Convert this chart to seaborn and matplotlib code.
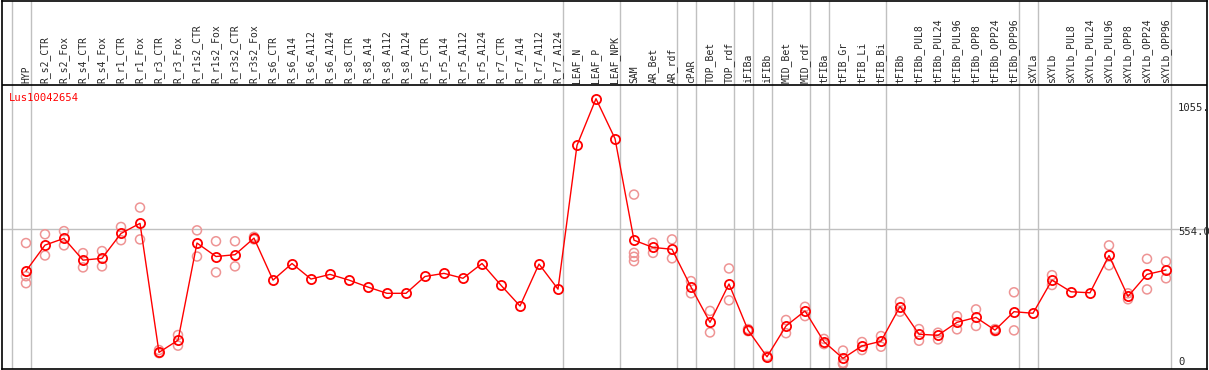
import matplotlib as mpl
import matplotlib.pyplot as plt
import seaborn as sns
import pandas as pd
import numpy as np

sns.set_style('white')
mpl.rc('font', family=['DejaVu Sans Mono', 'DejaVu Sans'], size=7)

gene = 'Lus10042654'

samples = ['HYP', 'R_s2_CTR', 'R_s2_Fox', 'R_s4_CTR', 'R_s4_Fox', 'R_r1_CTR', 'R_r1_Fox',
           'R_r3_CTR', 'R_r3_Fox', 'R_r1s2_CTR', 'R_r1s2_Fox', 'R_r3s2_CTR', 'R_r3s2_Fox',
           'R_s6_CTR', 'R_s6_A14', 'R_s6_A112', 'R_s6_A124', 'R_s8_CTR', 'R_s8_A14',
           'R_s8_A112', 'R_s8_A124', 'R_r5_CTR', 'R_r5_A14', 'R_r5_A112', 'R_r5_A124',
           'R_r7_CTR', 'R_r7_A14', 'R_r7_A112', 'R_r7_A124', 'LEAF_N', 'LEAF_P', 'LEAF_NPK',
           'SAM', 'AR_Bet', 'AR_rdf', 'cPAR', 'TOP_Bet', 'TOP_rdf', 'iFIBa', 'iFIBb',
           'MID_Bet', 'MID_rdf', 'tFIBa', 'tFIB_Gr', 'tFIB_Li', 'tFIB_Bi', 'tFIBb',
           'tFIBb_PUL8', 'tFIBb_PUL24', 'tFIBb_PUL96', 'tFIBb_OPP8', 'tFIBb_OPP24',
           'tFIBb_OPP96', 'sXYLa', 'sXYLb', 'sXYLb_PUL8', 'sXYLb_PUL24', 'sXYLb_PUL96',
           'sXYLb_OPP8', 'sXYLb_OPP24', 'sXYLb_OPP96']

mean_expr = [390, 490, 516, 432, 439, 535, 574, 76, 123, 498, 446, 453, 517,
             355, 419, 359, 377, 355, 328, 304, 304, 369, 381, 362, 419,
             335, 255, 417, 320, 875, 1055, 901,
             509, 481, 474, 328, 192, 340, 162, 59,
             178, 236, 117, 53, 101, 119, 253,
             146, 142, 192, 211, 162, 233, 227, 355,
             310, 306, 450, 292, 377, 394]

replicates = [[498, 370, 343], [532, 450], [544, 489], [459, 404], [467, 408], [560, 509], [635, 512],
              [85, 73], [143, 102], [547, 446], [505, 385], [505, 408], [522, 512],
              [], [], [], [], [], [], [], [], [], [], [], [], [], [], [], [],
              [], [], [],
              [685, 460, 445, 428], [499, 460], [512, 439], [351, 304], [236, 153], [400, 277],
              [166, 158], [62, 57],
              [201, 150], [252, 216], [128, 108], [83, 36, 31], [116, 85], [139, 98], [271, 233],
              [166, 121], [152, 126], [216, 165], [242, 178], [166, 158], [308, 161],
              [], [374, 336], [], [], [489, 412], [304, 281], [437, 319], [427, 362]]

# last sample of each tissue group gets a separator after it
group_ends = [-1, 0, 28, 31, 34, 35, 37, 38, 39, 41, 42, 45, 52, 53, 60]

scale_labels = ['1055.', '554.0', '0']
scale_pos = [1018, 540, 39]
mid_value = 554.0

df = pd.DataFrame({'pos': np.arange(len(samples)), 'sample': samples, 'expr': mean_expr})
rep_df = pd.DataFrame([(i, v) for i, reps in enumerate(replicates) for v in reps],
                      columns=['pos', 'expr'])

f = plt.figure(figsize=(12.09, 3.70), dpi=100)
ax = f.add_axes([2 / 1209, 1 / 370, 1205 / 1209, 368.5 / 370])

for g in group_ends:
    ax.axvline(g + 0.24, color='#c0c0c0', lw=1.0, zorder=0)
ax.axhline(mid_value, color='#c0c0c0', lw=1.0, zorder=0)
ax.axhline(1106.5, color='black', lw=1.2, zorder=1)

sns.scatterplot(data=rep_df, x='pos', y='expr', ax=ax, marker='o', s=42,
                facecolor='none', edgecolor='#ee9494', linewidth=1.1, zorder=2)
sns.lineplot(data=df, x='pos', y='expr', ax=ax, color='red', lw=1.0,
             marker='o', markersize=6.6, markerfacecolor='none',
             markeredgecolor='red', markeredgewidth=1.3, zorder=3)

for i, name in enumerate(samples):
    ax.text(i, 1114, name, rotation=90, ha='center', va='bottom', fontsize=7)

ax.text(-0.9, 1057, gene, color='red', ha='left', va='center', fontsize=7.6)
for lab, p in zip(scale_labels, scale_pos):
    ax.text(60.63, p, lab, ha='left', va='center', fontsize=7.6)

ax.set_xlim(-1.263, 62.158)
ax.set_ylim(11.9, 1434)
ax.set_xticks([])
ax.set_yticks([])
ax.set_xlabel('')
ax.set_ylabel('')
for s in ax.spines.values():
    s.set_color('black')
    s.set_linewidth(1.2)

plt.savefig('out.png', dpi=100)
